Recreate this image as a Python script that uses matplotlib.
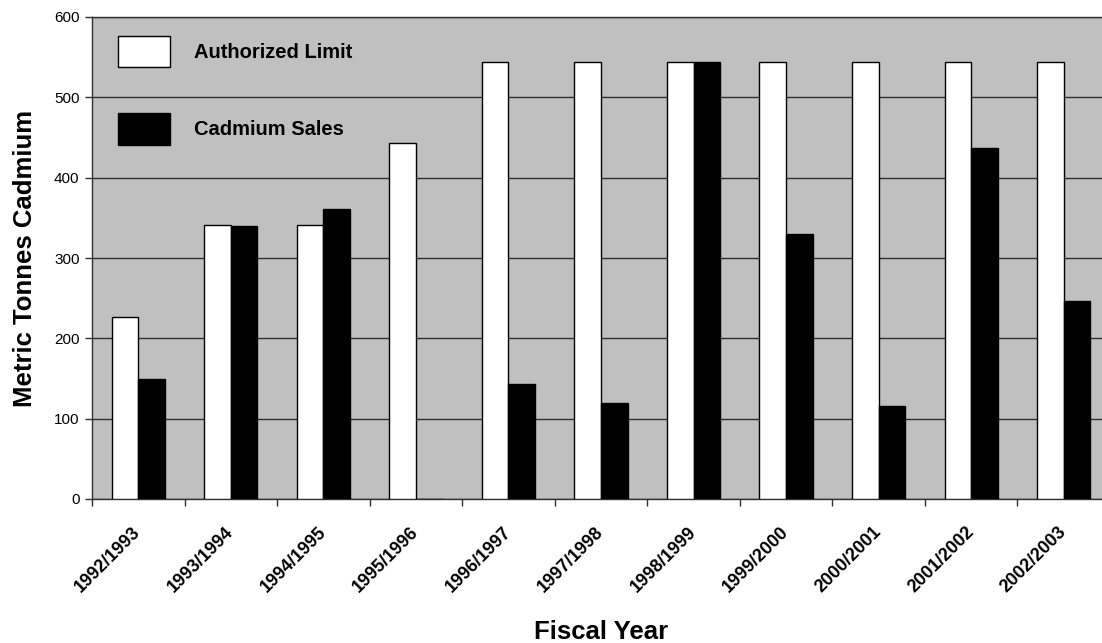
import numpy as np
import matplotlib
matplotlib.use("Agg")
import matplotlib.pyplot as plt
from matplotlib.transforms import ScaledTranslation

plt.rcParams['font.family'] = ['Liberation Sans', 'DejaVu Sans']

years = ['1992/1993', '1993/1994', '1994/1995', '1995/1996', '1996/1997', '1997/1998',
         '1998/1999', '1999/2000', '2000/2001', '2001/2002', '2002/2003']
authorized = [227, 341, 341, 443, 544, 544, 544, 544, 544, 544, 544]
sales = [150, 340, 361, 0, 143, 120, 544, 330, 116, 437, 246]

fig = plt.figure(figsize=(11.02, 6.43), dpi=100)
# axes runs off the right edge like the original
ax = fig.add_axes([92/1102, 144/643, 1018/1102, 482/643])
ax.set_facecolor('#c0c0c0')

x = np.arange(len(years))
w = 0.288
ax.bar(x - w/2, authorized, w, color='white', edgecolor='black', linewidth=1,
       label='Authorized Limit', zorder=3)
ax.bar(x + w/2, sales, w, color='black', edgecolor='black', linewidth=1,
       label='Cadmium Sales', zorder=3)

ax.set_xlim(-0.5, 10.5)
ax.set_ylim(0, 600)
ax.set_yticks(range(0, 601, 100))
ax.yaxis.grid(True, color='#303030', linewidth=1, zorder=1)
ax.set_axisbelow(True)

ax.set_xticks(x)
ax.set_xticklabels(years, fontsize=13, fontweight='bold', rotation=45,
                   ha='right', va='center', rotation_mode='anchor')
shift = ScaledTranslation(-33/100, 0, fig.dpi_scale_trans)
for lab in ax.get_xticklabels():
    lab.set_transform(lab.get_transform() + shift)
ax.set_xticks(np.arange(-0.5, 11, 1), minor=True)
ax.tick_params(axis='x', which='major', length=0, pad=22)
ax.tick_params(axis='x', which='minor', length=5, width=1, color='#303030')
ax.tick_params(axis='y', length=5, width=1, color='#303030', labelsize=11, pad=4)

for s in ['top', 'left', 'bottom']:
    ax.spines[s].set_color('#303030')
    ax.spines[s].set_linewidth(1)
ax.spines['right'].set_visible(False)

ax.set_xlabel('Fiscal Year', fontsize=18.5, fontweight='bold')
ax.xaxis.set_label_coords(0.5, -0.251)
ax.set_ylabel('Metric Tonnes Cadmium', fontsize=18.5, fontweight='bold')
ax.yaxis.set_label_coords(-0.054, 0.5)

ax.legend(loc='upper left', bbox_to_anchor=(26/1018, 463/482), frameon=False,
          prop={'size': 14.5, 'weight': 'bold'}, handlelength=2.6, handleheight=2.0,
          handletextpad=1.15, labelspacing=2.3, borderpad=0, borderaxespad=0)

fig.savefig('out.png', dpi=100)
